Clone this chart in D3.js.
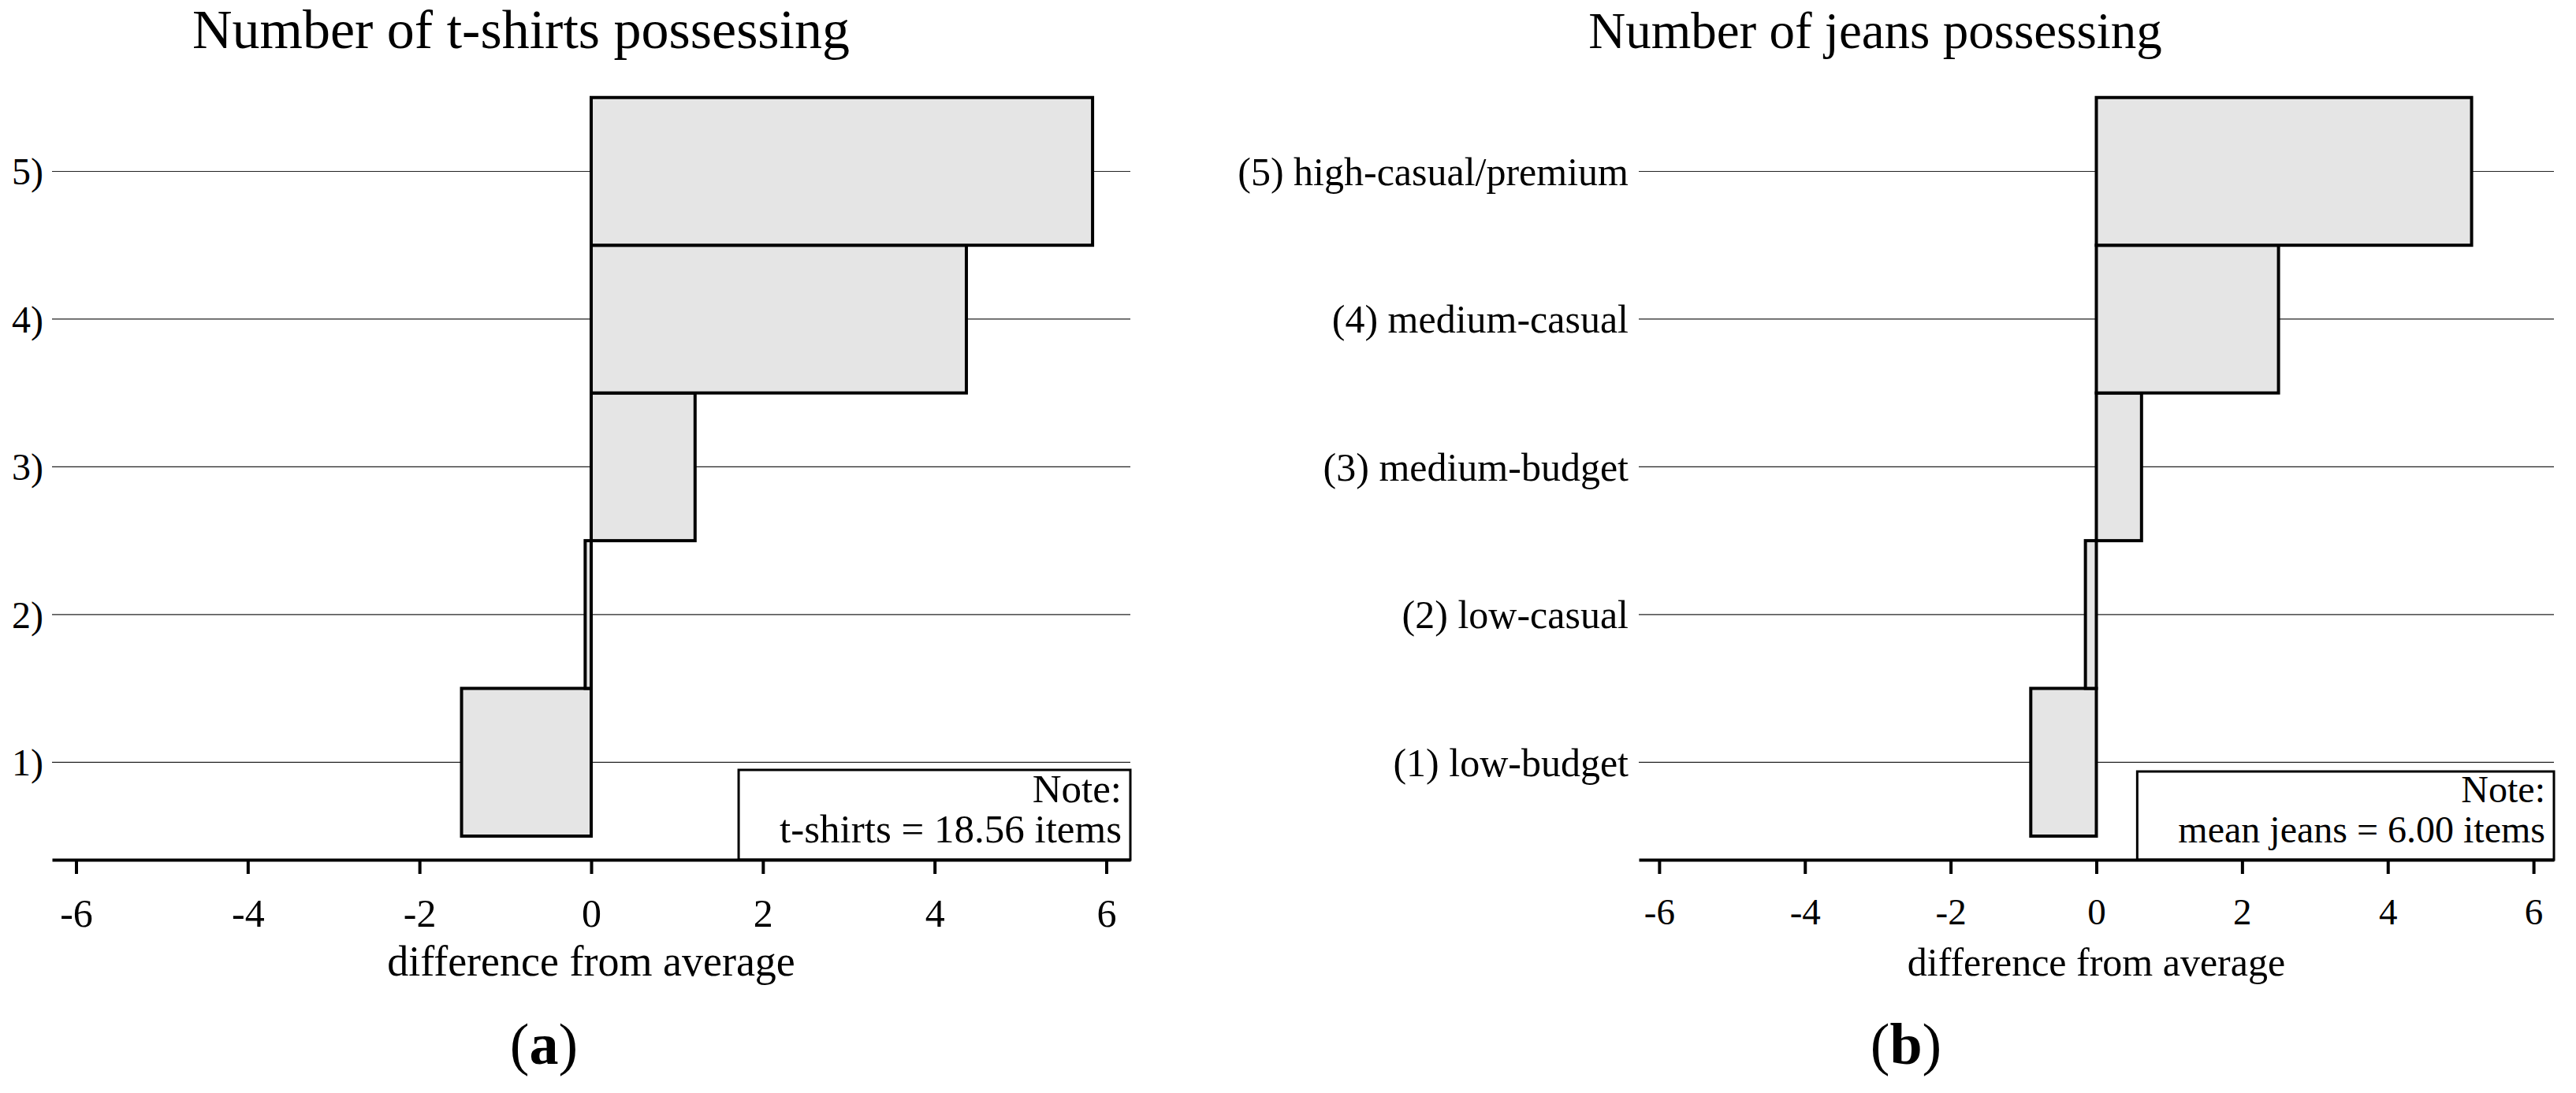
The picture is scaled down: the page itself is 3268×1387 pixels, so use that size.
<!DOCTYPE html>
<html>
<head>
<meta charset="utf-8">
<script src="https://cdn.jsdelivr.net/npm/d3@7"></script>
<style>
  body { margin: 0; background: #fff; }
  svg { display: block; font-family: "Liberation Serif", "DejaVu Serif", serif; }
</style>
</head>
<body>
<svg id="chart" width="3268" height="1387"></svg>
<script>
// category positions (1 = bottom row, 5 = top row)
const categories = [1, 2, 3, 4, 5];
const tshirtLabels = ["1)", "2)", "3)", "4)", "5)"];
const jeansLabels = ["(1) low-budget", "(2) low-casual", "(3) medium-budget", "(4) medium-casual", "(5) high-casual/premium"];

// difference from average
const tshirtDiff = [-1.51, -0.07, 1.21, 4.37, 5.84];
const jeansDiff = [-0.90, -0.15, 0.62, 2.50, 5.15];

const xTicks = [-6, -4, -2, 0, 2, 4, 6];
const xDomain = [-6.28, 6.28];
const yDomain = [0.34, 5.5];

const svg = d3.select('#chart');

// shared vertical scale for both panels
const yScale = d3.scaleLinear()
    .domain(yDomain)
    .range([1091, 123.75]);

function drawPanel(p) {
    const g = svg.append('g');

    const xScale = d3.scaleLinear()
        .domain(xDomain)
        .range(p.range);

    const rows = categories.map((c, i) => ({ cat: c, label: p.labels[i], value: p.values[i] }));

    // grid lines behind the bars
    g.selectAll('line.grid')
        .data(rows)
        .enter()
        .append('line')
        .attr('class', 'grid')
        .attr('x1', p.range[0])
        .attr('x2', p.range[1])
        .attr('y1', d => yScale(d.cat))
        .attr('y2', d => yScale(d.cat))
        .attr('stroke', '#222')
        .attr('stroke-width', 1.2);

    // category labels
    g.selectAll('text.cat')
        .data(rows)
        .enter()
        .append('text')
        .attr('class', 'cat')
        .attr('x', p.labelX)
        .attr('y', d => yScale(d.cat))
        .attr('dy', '0.35em')
        .style('text-anchor', 'end')
        .style('font-size', p.labelSize + 'px')
        .text(d => d.label);

    // bars, one unit high, touching each other
    g.selectAll('rect.bar')
        .data(rows)
        .enter()
        .append('rect')
        .attr('class', 'bar')
        .attr('x', d => xScale(Math.min(0, d.value)))
        .attr('y', d => yScale(d.cat + 0.5))
        .attr('width', d => Math.abs(xScale(d.value) - xScale(0)))
        .attr('height', d => yScale(d.cat - 0.5) - yScale(d.cat + 0.5))
        .attr('fill', '#e5e5e5')
        .attr('stroke', '#000')
        .attr('stroke-width', 4);

    // note box in the lower right corner
    const base = yScale(yDomain[0]);
    const note = g.append('g');
    const line1 = note.append('text')
        .attr('x', p.range[1] - 11)
        .attr('y', base - 73)
        .style('text-anchor', 'end')
        .style('font-size', p.noteSize + 'px')
        .text('Note:');
    const line2 = note.append('text')
        .attr('x', p.range[1] - 11)
        .attr('y', base - 22)
        .style('text-anchor', 'end')
        .style('font-size', p.noteSize + 'px')
        .text(p.note);
    const b1 = line1.node().getBBox();
    const b2 = line2.node().getBBox();
    const left = Math.min(b1.x, b2.x) - 52;
    const top = b1.y + 4;
    note.insert('rect', 'text')
        .attr('x', left)
        .attr('y', top)
        .attr('width', p.range[1] - left)
        .attr('height', base - top)
        .attr('fill', '#fff')
        .attr('stroke', '#000')
        .attr('stroke-width', 3);

    // x axis
    const axis = g.append('g')
        .attr('transform', `translate(0, ${base})`)
        .call(d3.axisBottom(xScale)
            .tickValues(xTicks)
            .tickSize(18)
            .tickSizeOuter(0)
            .tickPadding(31)
            .tickFormat(d3.format('d')));
    axis.select('.domain')
        .attr('stroke', '#000')
        .attr('stroke-width', 4);
    axis.selectAll('.tick line')
        .attr('stroke', '#000')
        .attr('stroke-width', 4);
    axis.selectAll('.tick text')
        .attr('fill', '#000')
        .style('font-family', '"Liberation Serif", serif')
        .style('font-size', p.tickSize + 'px')
        .text(d => d < 0 ? '-' + Math.abs(d) : d);

    // x axis label
    g.append('text')
        .attr('x', xScale(0))
        .attr('y', 1238)
        .style('text-anchor', 'middle')
        .style('font-size', p.axisSize + 'px')
        .text('difference from average');

    // panel title
    g.append('text')
        .attr('x', p.titleX)
        .attr('y', 61)
        .style('text-anchor', 'middle')
        .style('font-size', p.titleSize + 'px')
        .text(p.title);

    // panel letter
    const letter = g.append('text')
        .attr('x', p.letterX)
        .attr('y', 1350)
        .style('text-anchor', 'middle')
        .style('font-size', '74px');
    letter.append('tspan').text('(');
    letter.append('tspan').style('font-weight', 'bold').text(p.letter);
    letter.append('tspan').text(')');
}

drawPanel({
    range: [66, 1434],
    labels: tshirtLabels,
    values: tshirtDiff,
    labelX: 55,
    labelSize: 48,
    note: 't-shirts = 18.56 items',
    noteSize: 51,
    tickSize: 50,
    axisSize: 54,
    title: 'Number of t-shirts possessing',
    titleX: 661,
    titleSize: 70,
    letter: 'a',
    letterX: 690
});

drawPanel({
    range: [2079, 3240],
    labels: jeansLabels,
    values: jeansDiff,
    labelX: 2066,
    labelSize: 50,
    note: 'mean jeans = 6.00 items',
    noteSize: 48,
    tickSize: 47,
    axisSize: 50,
    title: 'Number of jeans possessing',
    titleX: 2379,
    titleSize: 65,
    letter: 'b',
    letterX: 2418
});
</script>
</body>
</html>
